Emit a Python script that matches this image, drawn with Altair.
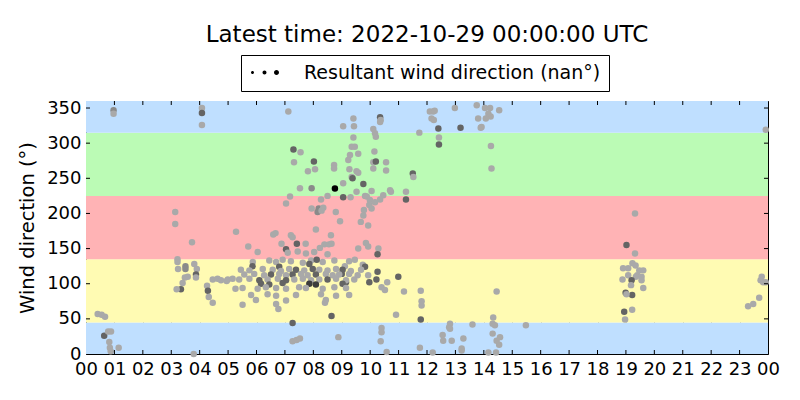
import altair as alt
import pandas as pd

title_text = "Latest time: 2022-10-29 00:00:00 UTC"
legend_label = "Resultant wind direction (nan°)"
y_title = "Wind direction (°)"

# ---- observations: hour of day (UTC), direction (deg), shade code ----
hours_a = [0.41, 0.55, 0.67, 0.64, 0.78, 0.88, 0.82, 0.84, 0.87, 1.15, 0.97, 0.97]
dirs_a = [57, 56, 53, 26, 32, 32, 17, 9, 4, 9, 347, 342]
shades_a = "llldllllllml"

hours_b = [3.14, 3.14, 3.73, 3.22, 3.22, 3.24, 3.5, 3.5, 3.81, 3.9, 3.87, 3.87, 3.48, 3.58, 3.4, 3.34,
           3.19, 3.79, 4.08, 4.08, 4.08, 4.26, 4.29, 4.32, 4.46, 4.46, 4.63, 4.75, 4.99, 5.16, 4.95]
dirs_b = [202, 185, 159, 135, 131, 121, 125, 121, 128, 121, 113, 109, 109, 110, 101, 92,
          92, 0, 350, 343, 326, 97, 90, 81, 73, 106, 107, 105, 106, 107, 104]
shades_b = "llllllmmlldlllldllldlldllllllll"

hours_c = [5.28, 5.26, 5.71, 6.59, 6.67, 6.88, 7.12, 7.3, 7.55, 7.32,
           7.81, 7.53, 7.18, 7.04, 7.21, 7.27, 7.42, 7.73, 7.04, 7.27,
           7.27, 7.41, 7.53, 8.02, 8.06, 8.73, 8.73, 7.94, 7.94, 8.19,
           8.35, 8.27, 8.5, 8.15, 8.29, 8.79, 8.09, 8.62, 8.39, 8.55,
           8.23, 8.64, 8.94, 8.64, 8.88, 6.77, 8.41]
dirs_c = [174, 93, 153, 170, 172, 157, 345, 291, 287, 273,
          260, 236, 224, 214, 169, 166, 157, 157, 149, 44,
          18, 20, 22, 274, 263, 269, 264, 236, 207, 207,
          208, 220, 225, 202, 204, 202, 177, 169, 156, 156,
          151, 157, 189, 54, 24, 64, 73]
shades_c = "llllllldll" + "lllllldldd" + "llldlllmlm" + "lllmllllll" + "llldlll"

hours_c2 = [9.05, 9.41, 9.43, 9.41, 9.35, 9.46, 9.58, 9.29, 9.23, 9.27,
            9.52, 9.58, 9.35, 9.38, 9.05, 9.76, 9.52, 9.05, 9.31, 9.82,
            9.88, 9.97, 9.78, 9.76, 9.67, 9.93, 9.85, 9.93, 9.58, 9.93, 9.97]
dirs_c2 = [324, 335, 324, 308, 295, 295, 285, 283, 276, 263,
           260, 258, 252, 250, 243, 242, 231, 223, 223, 225,
           224, 212, 205, 197, 188, 183, 158, 153, 150, 112, 102]
shades_c2 = "llllllllll" + "llldldldll" + "lllllllllld"

hours_d = [10.35, 10.37, 10.11, 10.17, 10.2, 10.35, 10.15, 10.11, 10.2, 10.11,
           10.56, 10.56, 10.05, 9.99, 10.17, 10.46, 10.35, 10.7, 10.73, 10.05,
           10.29, 10.26, 10.26, 10.22, 10.99, 10.6, 10.4, 10.52, 10.91, 10.4,
           10.4, 10.37, 10.58, 11.26, 11.26, 11.5, 11.52, 11.73, 11.19, 11.78,
           11.81, 11.81, 11.78, 11.75]
dirs_d = [337, 333, 320, 314, 309, 330, 288, 273, 274, 264,
          273, 261, 232, 219, 216, 226, 220, 233, 231, 207,
          150, 142, 117, 106, 110, 102, 95, 91, 56, 37,
          31, 18, 3, 231, 220, 257, 252, 315, 89, 90,
          75, 69, 49, 9]
shades_d = "dllllllldl" + "llllllllll" + "lddddlllll" + "llllddllll" + "lldl"

hours_e = [12.1, 12.22, 12.16, 12.24, 12.27, 12.4, 12.42, 12.42, 12.98, 12.81,
           12.78, 12.81, 12.55, 12.57, 12.87, 12.2, 13.18, 13.75, 13.8, 13.89,
           13.92, 13.6, 13.28, 13.22, 13.22, 14.04, 14.22, 14.16, 14.24, 14.07,
           14.54, 14.25, 14.27, 14.45, 14.33, 14.31, 14.39, 14.31, 14.45, 14.57,
           14.54, 14.16, 14.43, 15.48]
dirs_e = [345, 345, 335, 333, 346, 321, 308, 298, 350, 43,
          38, 36, 27, 19, 19, 2, 322, 354, 335, 322,
          323, 42, 22, 8, 5, 350, 350, 342, 338, 335,
          347, 296, 264, 89, 52, 43, 41, 29, 19, 24,
          13, 2, 2, 41]
shades_e = "llllldldll" + "lllllldlll" + "l" * 24

hours_f = [19.32, 19.02, 19.32, 19.23, 19.34, 19.47, 19.61, 18.9, 19.08, 19.4,
           19.35, 19.55, 19.55, 19.08, 18.88, 19.2, 19.18, 19.61, 18.99, 19.22,
           19.02, 19.22, 18.94, 18.97]
dirs_f = [200, 155, 143, 129, 126, 119, 119, 122, 122, 112,
          110, 110, 105, 112, 106, 105, 98, 94, 87, 84,
          85, 63, 60, 49]
shades_f = "ldllllllll" + "llllldlldd" + "lldl"

hours_g = [23.3, 23.48, 23.69, 23.74, 23.78, 23.83, 23.92, 23.92]
dirs_g = [68, 71, 80, 105, 110, 102, 102, 319]
shades_g = "llllllll"

hours_z = [6.04, 7.1, 7.45, 7.74, 8.03, 8.5,
           5.87, 6.45, 6.69, 6.92, 7.21, 7.63, 7.92, 8.33, 8.74, 9.26,
           7.86, 9.74, 8.12, 5.86, 6.8, 9.46, 9.11, 9.82, 9.15, 9.0,
           5.45, 5.75, 6.22, 6.57, 6.86, 7.15, 7.39, 7.68, 7.98, 8.21, 8.5, 8.8, 9.03, 9.32, 9.68,
           5.57, 5.92, 6.27, 6.51, 6.8, 7.04, 7.27, 7.57, 7.8, 8.09, 8.44, 8.68, 8.91, 9.26, 9.56,
           5.39, 5.75, 6.1, 6.39, 6.75, 7.04, 7.33, 7.63, 7.92, 8.21, 8.5, 8.8, 9.15, 9.44,
           6.16, 6.45, 6.92, 7.86, 8.09, 9.03,
           5.51, 6.04, 6.33, 6.69, 7.04, 7.5, 7.74, 8.33, 8.74, 9.15,
           5.81, 6.39, 6.69, 7.39, 8.27, 8.8, 9.26,
           5.98, 7.04, 8.44,
           5.51, 6.69]
dirs_z = [145, 144, 146, 143, 145, 142,
          131, 133, 131, 134, 132, 130, 133, 131, 133, 132,
          128, 127, 134, 125, 124, 134, 125, 124, 102, 114,
          120, 119, 121, 120, 118, 121, 120, 119, 121, 120, 119, 121, 120, 118, 120,
          113, 114, 112, 113, 114, 112, 113, 114, 112, 113, 114, 112, 113, 114, 112,
          106, 107, 105, 106, 107, 105, 106, 107, 105, 106, 106, 107, 105, 106,
          100, 99, 101, 100, 99, 100,
          94, 93, 95, 94, 93, 95, 94, 93, 95, 94,
          84, 85, 83, 84, 85, 83, 84,
          77, 76, 77,
          70, 71]
shades_z = ("llllll" + "llllllllll" + "dldddllddd" + "lllllldldllldll" + "llldlldlldlllll"
            + "lldlldlllldlll" + "dddxxd" + "l" * 22)

hours_k = [8.76]
dirs_k = [235.5]
shades_k = "k"

shade_colors = {"l": "#a9a9a9", "m": "#8a8a8a", "d": "#646464", "x": "#3c3c3c", "k": "#000000"}

# ---- compass-sector background bands ----
band_lo = [0, 45, 135, 225, 315]
band_hi = [45, 135, 225, 315, 360]
band_colors = ["#bfdfff", "#fffbb3", "#ffb3b5", "#bbfbb5", "#bfdfff"]

y_ticks = [0, 50, 100, 150, 200, 250, 300, 350]
hour_ticks = list(range(25))


def ts(h):
    s = int(round(h * 3600))
    d, s = divmod(s, 86400)
    hh, s = divmod(s, 3600)
    mm, ss = divmod(s, 60)
    return f"2022-10-{28 + d:02d}T{hh:02d}:{mm:02d}:{ss:02d}Z"


def dt(h):
    return alt.DateTime(year=2022, month=10, date=28 + h // 24, hours=h % 24, utc=True)


groups = [(hours_a, dirs_a, shades_a), (hours_b, dirs_b, shades_b), (hours_c, dirs_c, shades_c),
          (hours_c2, dirs_c2, shades_c2), (hours_z, dirs_z, shades_z), (hours_d, dirs_d, shades_d),
          (hours_e, dirs_e, shades_e), (hours_f, dirs_f, shades_f), (hours_g, dirs_g, shades_g),
          (hours_k, dirs_k, shades_k)]
rows = []
for hs, ds, ss in groups:
    n = min(len(hs), len(ds), len(ss))
    for i in range(n):
        rows.append({"t": ts(hs[i]), "dir": ds[i], "color": shade_colors[ss[i]]})
points = pd.DataFrame(rows)

bands = pd.DataFrame({"lo": band_lo, "hi": band_hi, "color": band_colors,
                      "t0": ts(0), "t1": ts(24)})

W, H = 682, 253
tick_deg = 4 * 360 / H
tick_hr = 4 * 24 / W

x_scale = alt.Scale(type="utc", domain=[dt(0), dt(24)], nice=False)
y_scale = alt.Scale(domain=[0, 360], nice=False, zero=False)

font = "DejaVu Sans"
x_axis = alt.Axis(values=[dt(h) for h in hour_ticks], labelExpr="utcFormat(datum.value, '%H')",
                  title=None, labelFlush=False, labelOverlap=False, labelPadding=6)
y_axis = alt.Axis(values=y_ticks, title=y_title, labelOverlap=False)


def X(field):
    return alt.X(field, scale=x_scale, axis=x_axis)


def Y(field):
    return alt.Y(field, scale=y_scale, axis=y_axis)


bands_layer = alt.Chart(bands).mark_rect().encode(
    x=X("t0:T"), x2="t1:T", y=Y("lo:Q"), y2="hi:Q",
    color=alt.Color("color:N", scale=None),
)

points_layer = alt.Chart(points).mark_circle(size=42, opacity=1).encode(
    x=X("t:T"), y=Y("dir:Q"), color=alt.Color("color:N", scale=None),
)

xt_hours = list(range(1, 24))
xt = pd.DataFrame({"t": [ts(h) for h in xt_hours], "b0": 0.0, "b1": tick_deg,
                   "u0": 360.0, "u1": 360 - tick_deg})
bottom_ticks = alt.Chart(xt).mark_rule(color="black", strokeWidth=1).encode(
    x=X("t:T"), y=Y("b0:Q"), y2="b1:Q")
top_ticks = alt.Chart(xt).mark_rule(color="black", strokeWidth=1).encode(
    x=X("t:T"), y=Y("u0:Q"), y2="u1:Q")

yt = pd.DataFrame({"d": y_ticks[1:], "a": ts(0), "b": ts(tick_hr), "c": ts(24), "e": ts(24 - tick_hr)})
left_ticks = alt.Chart(yt).mark_rule(color="black", strokeWidth=1).encode(
    x=X("a:T"), x2="b:T", y=Y("d:Q"))
right_ticks = alt.Chart(yt).mark_rule(color="black", strokeWidth=1).encode(
    x=X("c:T"), x2="e:T", y=Y("d:Q"))

dots_path = ("M-2.5,0A0.5,0.5 0 1,0 -1.5,0A0.5,0.5 0 1,0 -2.5,0Z "
             "M1.33,0A0.67,0.67 0 1,0 2.67,0A0.67,0.67 0 1,0 1.33,0Z "
             "M5.17,0A0.83,0.83 0 1,0 6.83,0A0.83,0.83 0 1,0 5.17,0Z")
legend_df = pd.DataFrame({"label": [legend_label]})
legend_layer = alt.Chart(legend_df).mark_point(filled=True, opacity=0, size=36, color="black").encode(
    shape=alt.Shape("label:N", scale=alt.Scale(range=[dots_path]),
                    legend=alt.Legend(title=None, orient="none", legendX=155, legendY=-46,
                                      labelFont=font, labelFontSize=19, labelColor="black",
                                      labelLimit=600,
                                      symbolSize=36, symbolFillColor="black", symbolStrokeWidth=0,
                                      symbolOpacity=1, strokeColor="black", fillColor="white",
                                      padding=8, labelOffset=36, cornerRadius=0)),
)

chart = alt.layer(bands_layer, points_layer, bottom_ticks, top_ticks, left_ticks, right_ticks,
                  legend_layer).properties(
    width=W, height=H,
    title=alt.TitleParams(text=title_text, font=font, fontSize=23, fontWeight="normal",
                          color="black", anchor="middle", offset=8),
    padding={"left": 78, "top": 93, "right": 24, "bottom": 38},
    autosize=alt.AutoSizeParams(type="none"),
).configure_view(
    stroke="black", strokeWidth=1
).configure_axis(
    grid=True, gridColor="black", gridDash=[1, 3], gridWidth=0.8, gridOpacity=1,
    ticks=False, domain=False, labelFont=font, labelFontSize=18, labelColor="black",
    labelPadding=5, labelOverlap=False, labelFlush=False, zindex=1,
    titleFont=font, titleFontSize=19.5, titleFontWeight="normal", titleColor="black",
    titlePadding=9,
)

chart.save("out.html", embed_options={"renderer": "svg", "actions": False})
